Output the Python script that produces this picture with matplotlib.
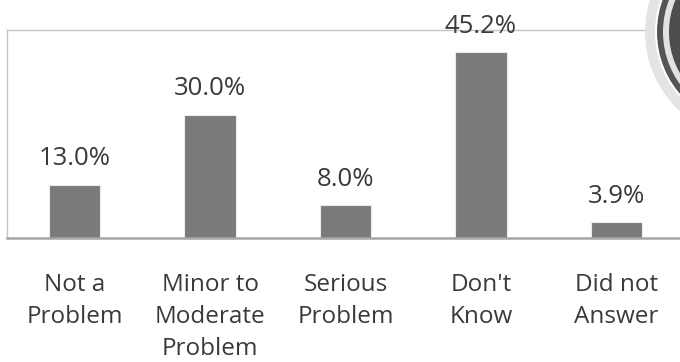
import matplotlib
matplotlib.use('Agg')
import matplotlib.pyplot as plt
from matplotlib.patches import Circle

categories = ['Not a\nProblem', 'Minor to\nModerate\nProblem', 'Serious\nProblem', "Don't\nKnow", 'Did not\nAnswer']
percents = [13.0, 30.0, 8.0, 45.2, 3.9]
value_labels = ['13.0%', '30.0%', '8.0%', '45.2%', '3.9%']

plt.rcParams['font.family'] = ['Open Sans', 'DejaVu Sans']
text_color = '#3a3a3a'

W, H = 680, 362
fig = plt.figure(figsize=(W / 100, H / 100), dpi=100)
fig.patch.set_facecolor('white')

# plot box: left edge at x=7, top at y=30, baseline at y=238 (pixels)
ax = fig.add_axes([7 / W, (H - 238) / H, (684 - 7) / W, (238 - 30) / H])
x = list(range(len(categories)))
bars = ax.bar(x, percents, width=0.38, color='#7a7a7a', edgecolor='#f2e8e8', linewidth=0.8, zorder=2)

ax.set_xlim(-0.5, len(categories) - 0.5)
ax.set_ylim(0, 50.6)
ax.set_yticks([])
ax.set_xticks(x)
ax.set_xticklabels(categories, fontsize=17.5, color=text_color, linespacing=1.46, va='top')
ax.tick_params(axis='x', length=0, pad=25)

for side in ['left', 'top', 'right']:
    ax.spines[side].set_color('#c4c4c4')
    ax.spines[side].set_linewidth(1.0)
ax.spines['bottom'].set_color('#a6a6a6')
ax.spines['bottom'].set_linewidth(1.8)

for rect, lbl in zip(bars, value_labels):
    ax.annotate(lbl, (rect.get_x() + rect.get_width() / 2, rect.get_height()),
                xytext=(0, 14), textcoords='offset points',
                ha='center', va='baseline', fontsize=18.5, color=text_color)

# ring ornament in the upper right corner
deco = fig.add_axes([0, 0, 1, 1], zorder=5)
deco.set_xlim(0, W)
deco.set_ylim(H, 0)
deco.axis('off')
cx, cy = 752, 32
for r, c in [(107, '#e4e4e4'), (97, 'white'), (95, '#555555'), (89, '#e2e2e2'), (83, '#4d4d4d')]:
    deco.add_patch(Circle((cx, cy), r, color=c, lw=0))

fig.savefig('out.png', dpi=100)
